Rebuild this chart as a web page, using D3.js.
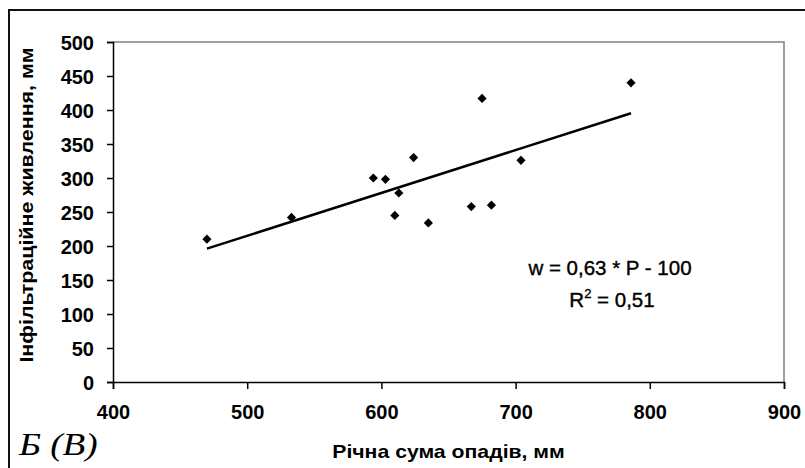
<!DOCTYPE html>
<html>
<head>
<meta charset="utf-8">
<script src="https://cdn.jsdelivr.net/npm/d3@7"></script>
<style>
  body { margin: 0; background: #fff; }
  svg { display: block; }
  .tick text { font-family: "Liberation Sans", Arial, sans-serif; font-weight: bold; font-size: 20px; fill: #000; }
</style>
</head>
<body>
<div id="chart"></div>
<script>
// data
var precip = [470, 533, 594, 603, 613, 610, 624, 635, 667, 675, 682, 704, 786];
var infil  = [210, 242, 300, 298, 278, 245, 330, 234, 258, 417, 260, 326, 440];

// trend line w = 0,63 * P - 100
var slope = 0.63;
var intercept = -100;

var xTicks = [400, 500, 600, 700, 800, 900];
var yTicks = [0, 50, 100, 150, 200, 250, 300, 350, 400, 450, 500];

var width = 805;
var height = 468;
var margin = { left: 113, right: 21, top: 42, bottom: 86 };

var svg = d3.select("#chart")
    .append("svg")
    .attr("width", width)
    .attr("height", height);

// outer frame
svg.append("rect")
    .attr("x", 9)
    .attr("y", 10)
    .attr("width", width)
    .attr("height", height)
    .attr("fill", "none")
    .attr("stroke", "#111")
    .attr("stroke-width", 2);

var x = d3.scaleLinear().domain([400, 900]).range([margin.left, width - margin.right]);
var y = d3.scaleLinear().domain([0, 500]).range([height - margin.bottom, margin.top]);

// plot area border (top & right grey)
svg.append("path")
    .attr("d", "M" + x(400) + "," + y(500) + "H" + x(900) + "V" + y(0))
    .attr("fill", "none")
    .attr("stroke", "#808080")
    .attr("stroke-width", 1.5);

var xAxis = svg.append("g")
    .attr("transform", "translate(0," + y(0) + ")")
    .call(d3.axisBottom(x).tickValues(xTicks).tickSize(7).tickPadding(16));

var yAxis = svg.append("g")
    .attr("transform", "translate(" + x(400) + ",0)")
    .call(d3.axisLeft(y).tickValues(yTicks).tickSize(6).tickPadding(13));

[xAxis, yAxis].forEach(function (g) {
    g.select(".domain").attr("stroke", "#000").attr("stroke-width", 1.5);
    g.selectAll(".tick line").attr("stroke", "#000").attr("stroke-width", 1.5);
});
yAxis.selectAll(".tick text").attr("dy", "0.36em");

// trend line
var pMin = d3.min(precip), pMax = d3.max(precip);
svg.append("line")
    .attr("x1", x(pMin))
    .attr("y1", y(slope * pMin + intercept))
    .attr("x2", x(pMax))
    .attr("y2", y(slope * pMax + intercept))
    .attr("stroke", "#000")
    .attr("stroke-width", 2.5);

// points
var diamond = d3.symbol().type(d3.symbolSquare).size(42);
svg.selectAll(".pt")
    .data(precip)
    .enter()
    .append("path")
    .attr("class", "pt")
    .attr("d", diamond)
    .attr("transform", function (d, i) {
        return "translate(" + x(d) + "," + y(infil[i]) + ") rotate(45)";
    })
    .attr("fill", "#000");

// equation
var eqStyle = function (t) {
    t.attr("text-anchor", "middle")
        .style("font-family", "Liberation Sans, Arial, sans-serif")
        .style("font-size", "20.5px")
        .attr("stroke", "#000")
        .attr("stroke-width", 0.4);
};
svg.append("text")
    .attr("x", 610)
    .attr("y", 275)
    .call(eqStyle)
    .text("w = 0,63 * P - 100");

var r2 = svg.append("text")
    .attr("x", 612)
    .attr("y", 307)
    .call(eqStyle);
r2.append("tspan").text("R");
r2.append("tspan").attr("dy", "-9").style("font-size", "13px").text("2");
r2.append("tspan").attr("dy", "9").text(" = 0,51");

// axis titles
svg.append("text")
    .attr("transform", "translate(" + (x(400) + x(900)) / 2 + ",458) scale(1.18,1)")
    .attr("text-anchor", "middle")
    .style("font-family", "Liberation Sans, Arial, sans-serif")
    .style("font-weight", "bold")
    .style("font-size", "18px")
    .text("Річна сума опадів, мм");

svg.append("text")
    .attr("transform", "translate(33," + ((y(0) + y(500)) / 2 - 7) + ") rotate(-90) scale(1.19,1)")
    .attr("text-anchor", "middle")
    .style("font-family", "Liberation Sans, Arial, sans-serif")
    .style("font-weight", "bold")
    .style("font-size", "18px")
    .text("Інфільтраційне живлення, мм");

// panel label
svg.append("text")
    .attr("transform", "translate(19,455) scale(1.2,1)")
    .style("font-family", "Liberation Serif, Times New Roman, serif")
    .style("font-style", "italic")
    .style("font-size", "31px")
    .text("Б (В)");
</script>
</body>
</html>
